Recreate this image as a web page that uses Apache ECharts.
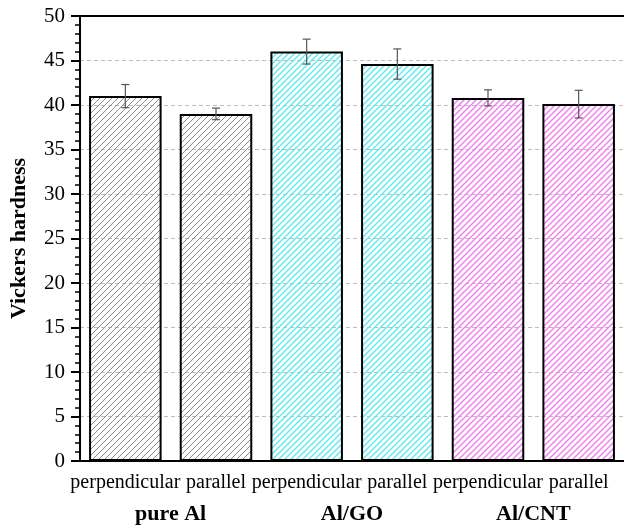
<!DOCTYPE html>
<html>
<head>
<meta charset="utf-8">
<script src="https://cdn.jsdelivr.net/npm/echarts@6/dist/echarts.min.js"></script>
<style>
  html, body { margin: 0; padding: 0; background: #fff; }
  #hardnessChart { width: 624px; height: 527px; }
</style>
</head>
<body>
<div id="hardnessChart"></div>
<script>
// data
var categories = ['perpendicular', 'parallel', 'perpendicular', 'parallel', 'perpendicular', 'parallel'];
var groups = ['pure Al', 'Al/GO', 'Al/CNT'];
var hardness = [41.0, 39.0, 46.0, 44.6, 40.8, 40.1];
var hardnessErr = [1.3, 0.65, 1.4, 1.7, 0.9, 1.55];
var yTicks = [0, 5, 10, 15, 20, 25, 30, 35, 40, 45, 50];

var serif = 'Liberation Serif, Times New Roman, serif';

// diagonal hatch pattern, transparent background
function hatch(color, gap, width) {
  var c = document.createElement('canvas');
  c.width = gap;
  c.height = gap;
  var ctx = c.getContext('2d');
  ctx.strokeStyle = color;
  ctx.lineWidth = width;
  ctx.beginPath();
  ctx.moveTo(-1, gap + 1); ctx.lineTo(gap + 1, -1);
  ctx.moveTo(-1, 1); ctx.lineTo(1, -1);
  ctx.moveTo(gap - 1, gap + 1); ctx.lineTo(gap + 1, gap - 1);
  ctx.stroke();
  return { image: c, repeat: 'repeat' };
}

var grayFill = hatch('#8c8c8c', 6, 1);
var cyanFill = hatch('#5ceaee', 6, 1.4);
var pinkFill = hatch('#f07cf0', 6, 1.4);
var fills = [grayFill, grayFill, cyanFill, cyanFill, pinkFill, pinkFill];

var barData = hardness.map(function (v, i) {
  return { value: v, itemStyle: { color: fills[i] } };
});
var errData = hardness.map(function (v, i) {
  return [i, v - hardnessErr[i], v + hardnessErr[i]];
});

var option = {
  animation: false,
  grid: {
    left: 77,
    top: 16,
    width: 550,
    height: 445
  },
  xAxis: [
    {
      type: 'category',
      data: categories,
      axisLine: { lineStyle: { color: '#000', width: 2 } },
      axisTick: { alignWithLabel: true, length: 9, lineStyle: { color: '#000', width: 2 } },
      axisLabel: { interval: 0, margin: 12, color: '#000', fontFamily: serif, fontSize: 20 },
      splitLine: { show: false }
    },
    {
      type: 'category',
      data: groups,
      position: 'bottom',
      offset: 38,
      axisLine: { show: false },
      axisTick: { show: false },
      axisLabel: { interval: 0, margin: 4, color: '#000', fontFamily: serif, fontSize: 22, fontWeight: 'bold' },
      splitLine: { show: false }
    },
    {
      // frame line on top
      type: 'category',
      data: categories,
      position: 'top',
      axisLine: { show: true, lineStyle: { color: '#000', width: 2 } },
      axisTick: { show: false },
      axisLabel: { show: false },
      splitLine: { show: false }
    }
  ],
  yAxis: {
    type: 'value',
    min: yTicks[0],
    max: yTicks[yTicks.length - 1],
    interval: 5,
    name: 'Vickers hardness',
    nameLocation: 'middle',
    nameGap: 50,
    nameTextStyle: { color: '#000', fontFamily: serif, fontSize: 22, fontWeight: 'bold' },
    axisLine: { show: true, lineStyle: { color: '#000', width: 2 } },
    axisTick: { show: true, length: 9, lineStyle: { color: '#000', width: 2 } },
    minorTick: { show: true, splitNumber: 5, length: 5, lineStyle: { color: '#000', width: 1.5 } },
    axisLabel: { margin: 15, color: '#000', fontFamily: serif, fontSize: 21 },
    splitLine: { show: true, lineStyle: { color: '#bbb', type: [4, 3], width: 1 } }
  },
  series: [
    {
      name: 'Vickers hardness',
      type: 'bar',
      barWidth: '80%',
      itemStyle: { borderColor: '#000', borderWidth: 2 },
      data: barData
    },
    {
      name: 'error',
      type: 'custom',
      z: 5,
      renderItem: function (params, api) {
        var x = api.value(0);
        var lo = api.coord([x, api.value(1)]);
        var hi = api.coord([x, api.value(2)]);
        var half = 4;
        var style = { stroke: '#555', lineWidth: 1.2 };
        return {
          type: 'group',
          children: [
            { type: 'line', shape: { x1: lo[0], y1: lo[1], x2: hi[0], y2: hi[1] }, style: style },
            { type: 'line', shape: { x1: lo[0] - half, y1: lo[1], x2: lo[0] + half, y2: lo[1] }, style: style },
            { type: 'line', shape: { x1: hi[0] - half, y1: hi[1], x2: hi[0] + half, y2: hi[1] }, style: style }
          ]
        };
      },
      encode: { x: 0, y: [1, 2] },
      data: errData
    }
  ]
};

var hardnessChart = echarts.init(document.getElementById('hardnessChart'));
hardnessChart.setOption(option);
</script>
</body>
</html>
